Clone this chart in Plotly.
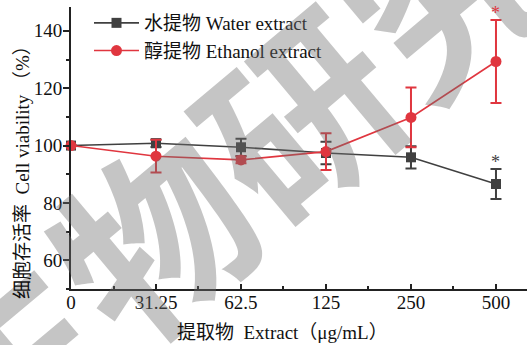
import plotly.graph_objects as go

categories = ["0", "31.25", "62.5", "125", "250", "500"]
water_mean = [100, 100.8, 99.4, 97.4, 95.9, 86.6]
water_err = [0, 1.3, 3.0, 3.9, 3.9, 5.2]
ethanol_mean = [100, 96.3, 95.0, 97.9, 109.8, 129.3]
ethanol_err = [0, 5.7, 1.2, 6.4, 10.4, 14.5]
yticks = [60, 80, 100, 120, 140]
signif_idx = [5]

xpos = list(range(len(categories)))
GRAY = "#404040"
RED = "#e0363f"
FONT = "Liberation Serif, Times New Roman, Noto Sans CJK SC, serif"

L, B, T, W, H = 71, 56, 7, 527, 345
PW, PH = W - L, H - B - T


def px_x(p):
    return (p - L) / PW


def px_y(p):
    return (H - B - p) / PH


fig = go.Figure()

fig.add_trace(go.Scatter(
    x=xpos, y=water_mean, mode="lines+markers", name="水提物 Water extract",
    line=dict(color=GRAY, width=1.6),
    marker=dict(symbol="square", size=10, color=GRAY),
    error_y=dict(type="data", array=water_err, color=GRAY, thickness=2, width=5.5),
    cliponaxis=False,
))
fig.add_trace(go.Scatter(
    x=xpos, y=ethanol_mean, mode="lines+markers", name="醇提物 Ethanol extract",
    line=dict(color=RED, width=1.6),
    marker=dict(symbol="circle", size=11, color=RED),
    error_y=dict(type="data", array=ethanol_err, color=RED, thickness=2, width=5.5),
    cliponaxis=False,
))

# watermark
fig.add_annotation(
    text="生物研究", xref="paper", yref="paper", x=px_x(222), y=px_y(170),
    xanchor="center", yanchor="middle",
    showarrow=False, textangle=-40,
    font=dict(family="Noto Sans CJK SC", size=190, weight=600,
              color="rgba(110,110,110,0.4)"),
)

for i in signif_idx:
    fig.add_annotation(x=xpos[i], y=ethanol_mean[i] + ethanol_err[i], text="*",
                       showarrow=False, yshift=7, font=dict(family=FONT, size=18, color=RED))
    fig.add_annotation(x=xpos[i], y=water_mean[i] + water_err[i], text="*",
                       showarrow=False, yshift=7, font=dict(family=FONT, size=18, color=GRAY))

fig.add_annotation(text="提取物  Extract（μg/mL）", xref="paper", yref="paper",
                   x=px_x(282), y=px_y(332), xanchor="center", yanchor="middle",
                   showarrow=False, font=dict(family=FONT, size=19, color="#111"))
fig.add_annotation(text="细胞存活率  Cell viability （%）", xref="paper", yref="paper",
                   x=px_x(22), y=px_y(168), xanchor="center", yanchor="middle",
                   showarrow=False, textangle=-90,
                   font=dict(family=FONT, size=19, color="#111"))

fig.update_layout(
    width=W, height=H,
    margin=dict(l=L, r=0, t=T, b=B),
    paper_bgcolor="white", plot_bgcolor="white",
    font=dict(family=FONT, size=19, color="#111"),
    showlegend=True,
    legend=dict(x=px_x(89), y=px_y(4), xanchor="left", yanchor="top",
                bgcolor="rgba(0,0,0,0)", font=dict(family=FONT, size=19, color="#111"),
                itemwidth=45, tracegroupgap=0),
    xaxis=dict(range=[0, 5.365], tickvals=xpos, ticktext=categories,
               showline=True, linecolor="#222", linewidth=2, showgrid=False, zeroline=False,
               ticks="inside", ticklen=5, tickwidth=1.5, tickcolor="#222",
               ticklabelstandoff=-5,
               minor=dict(tickvals=[i + 0.5 for i in xpos], ticks="inside", ticklen=3,
                          tickwidth=1.5, tickcolor="#222")),
    yaxis=dict(range=[50, 148.3], tickvals=yticks,
               showline=True, linecolor="#222", linewidth=2, showgrid=False, zeroline=False,
               ticks="outside", ticklen=6, tickwidth=1.5, tickcolor="#222",
               ticklabelstandoff=-3,
               minor=dict(dtick=10, tick0=0, ticks="outside", ticklen=3, tickwidth=1.5,
                          tickcolor="#222")),
)

fig.write_html("out.html", config={"displayModeBar": False},
               post_script="document.body.style.margin='0';document.body.style.overflow='hidden';")
